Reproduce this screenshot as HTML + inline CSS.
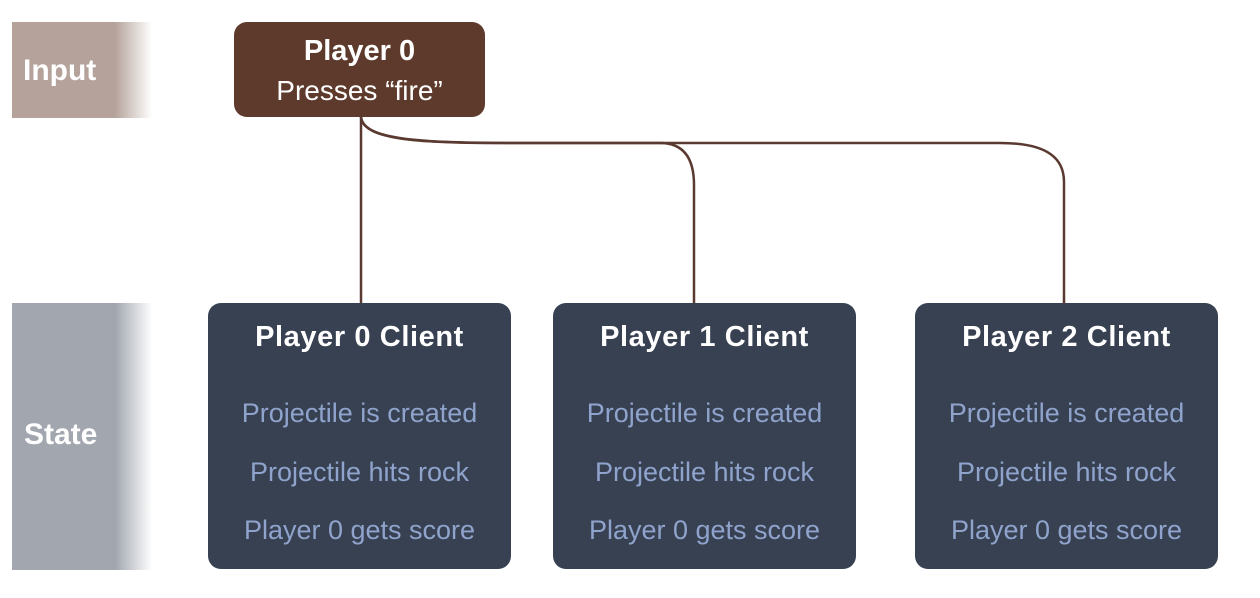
<!DOCTYPE html>
<html><head><meta charset="utf-8"><style>
body{margin:0;width:1260px;height:598px;background:#fff;position:relative;overflow:hidden;font-family:"Liberation Sans","DejaVu Sans",sans-serif}
.band{position:absolute;left:12px;width:140px;color:#fff;font-weight:bold;font-size:30px}
.box{position:absolute;border-radius:13px;color:#fff;text-align:center}
.cl{top:303px;height:266px;width:303px;background:#374152}
.cl .t{font-weight:bold;font-size:29px;letter-spacing:0.6px;margin-top:18px}
.cl .l{color:#8fa3cc;font-size:27px;line-height:58.5px;white-space:nowrap}
</style></head><body>
<div class="band" style="top:22px;height:96px;background:linear-gradient(90deg,#b5a39b 0,#b5a39b 103px,#fff 140px)"><div style="position:absolute;left:11px;top:32px">Input</div></div>
<div class="band" style="top:303px;height:267px;background:linear-gradient(90deg,#a1a6af 0,#a1a6af 103px,#fff 140px)"><div style="position:absolute;left:12px;top:115px">State</div></div>
<svg style="position:absolute;left:0;top:0" width="1260" height="598">
<g fill="none" stroke="#5a3a30" stroke-width="2.5">
<path d="M361 117 V303"/>
<path d="M361 117 C363 140 420 143 500 143 L660 143 C685 143 694 160 694 185 V303"/>
<path d="M361 117 C363 140 420 143 520 143 L1000 143 C1050 143 1064 160 1064 182 V303"/>
</g></svg>
<div class="box" style="left:234px;top:22px;width:251px;height:95px;background:#5e3a2c">
<div style="font-weight:bold;font-size:29px;margin-top:13px">Player 0</div>
<div style="font-size:28px;margin-top:7px">Presses “fire”</div></div>
<div class="box cl" style="left:208px"><div class="t">Player 0 Client</div><div style="margin-top:30px"><div class="l">Projectile is created</div><div class="l">Projectile hits rock</div><div class="l">Player 0 gets score</div></div></div>
<div class="box cl" style="left:553px"><div class="t">Player 1 Client</div><div style="margin-top:30px"><div class="l">Projectile is created</div><div class="l">Projectile hits rock</div><div class="l">Player 0 gets score</div></div></div>
<div class="box cl" style="left:915px"><div class="t">Player 2 Client</div><div style="margin-top:30px"><div class="l">Projectile is created</div><div class="l">Projectile hits rock</div><div class="l">Player 0 gets score</div></div></div>
</body></html>
